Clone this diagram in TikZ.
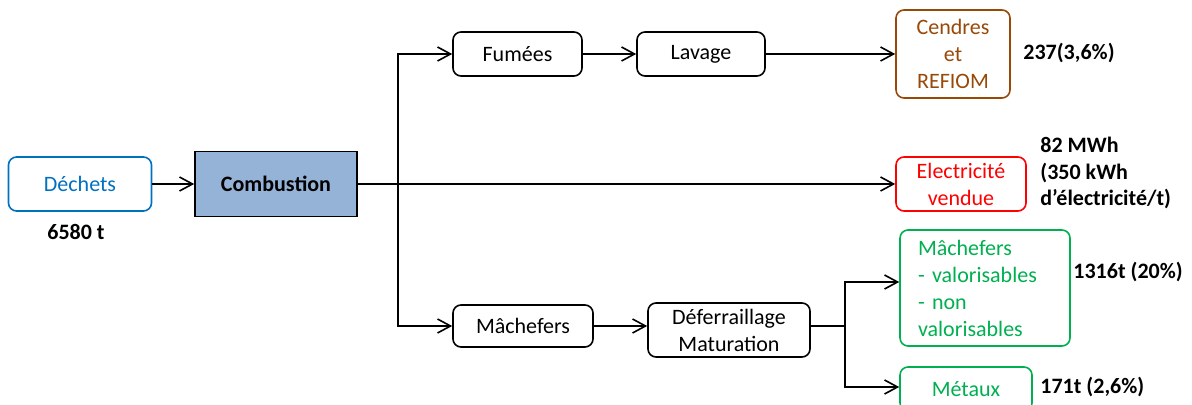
\documentclass[tikz,border=0pt]{standalone}
\usepackage{fontspec}
\setmainfont{Carlito}
\usetikzlibrary{arrows.meta}
\definecolor{cblue}{HTML}{0070C0}
\definecolor{cbrown}{HTML}{984807}
\definecolor{cred}{HTML}{FF0000}
\definecolor{cgreen}{HTML}{00B050}
\definecolor{cfill}{HTML}{95B3D7}
\tikzset{
  box/.style={draw=black, line width=0.8pt, rounded corners=4pt, inner sep=0pt,
    align=center, font=\fontsize{11}{13.5}\selectfont},
  arr/.style={draw=black, line width=0.8pt, -{Straight Barb[length=6.5pt,width=7pt,line width=0.8pt]}},
  lnk/.style={draw=black, line width=0.8pt},
  val/.style={font=\fontsize{11}{13.3}\selectfont\bfseries, inner sep=0pt}
}
\begin{document}
\begin{tikzpicture}[x=0.5pt, y=-0.5pt]
\useasboundingbox (0,0) rectangle (1192,405);
\clip (0,0) rectangle (1192,405);

% process boxes
\node[box, draw=cblue, text=cblue, minimum width=71.5pt, minimum height=27pt] (dechets) at (80,184) {Déchets};
\node[box, rounded corners=0pt, fill=cfill, minimum width=81pt, minimum height=32.5pt, font=\fontsize{11}{13.5}\selectfont\bfseries] (comb) at (276,184) {Combustion};
\node[box, minimum width=64.5pt, minimum height=22pt] (fumees) at (517.5,54) {Fumées};
\node[box, minimum width=64pt, minimum height=22pt] (lavage) at (701,54) {Lavage};
\node[box, draw=cbrown, text=cbrown, minimum width=57pt, minimum height=44pt] (cendres) at (953,54) {Cendres\\et\\REFIOM};
\node[box, draw=cred, text=cred, minimum width=65pt, minimum height=27pt] (elec) at (961,184) {Electricité\\vendue};
\node[box, minimum width=70pt, minimum height=21pt] (mach) at (523,326) {Mâchefers};
\node[box, minimum width=81pt, minimum height=27pt] (defer) at (729,330) {Déferraillage\\Maturation};
\node[box, draw=cgreen, text=cgreen, align=left, text width=67pt, inner xsep=9pt, minimum height=58pt] (machv) at (985,288) {Mâchefers\\- valorisables\\- non\\valorisables};
\node[box, draw=cgreen, text=cgreen, minimum width=66pt, minimum height=22pt] (metaux) at (966,389) {Métaux};

% quantities
\node[val] (q1) at (76,232) {6580 t};
\node[val, anchor=west] (q2) at (1023,53) {237(3,6\%)};
\node[val, anchor=west, align=left] (q3) at (1040,173) {82 MWh\\(350 kWh\\d’électricité/t)};
\node[val, anchor=west] (q4) at (1073,272) {1316t (20\%)};
\node[val, anchor=west] (q5) at (1040,387) {171t (2,6\%)};

% junctions
\coordinate (j1) at (398,184);
\coordinate (j2) at (845,326);

% connectors
\draw[arr] (dechets.east) -- (comb.west);
\draw[arr] (comb.east) -- (elec.west);
\draw[arr] (j1) |- (fumees.west);
\draw[arr] (j1) |- (mach.west);
\draw[arr] (fumees.east) -- (lavage.west);
\draw[arr] (lavage.east) -- (cendres.west);
\draw[arr] (mach.east) -- (mach.east -| defer.west);
\draw[lnk] (defer.east |- mach.east) -- (j2);
\draw[arr] (j2) |- ([yshift=3pt]machv.west);
\draw[arr] (j2) |- ([yshift=1pt]metaux.west);
\end{tikzpicture}
\end{document}
